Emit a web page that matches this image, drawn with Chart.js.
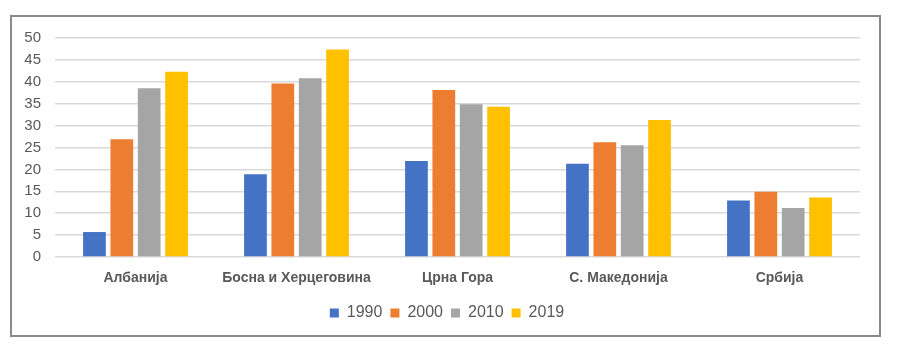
<!DOCTYPE html>
<html>
<head>
<meta charset="utf-8">
<script src="https://cdn.jsdelivr.net/npm/chart.js@4/dist/chart.umd.min.js"></script>
<style>
  html, body { margin: 0; padding: 0; background: #fff; }
  #wrap { position: relative; width: 900px; height: 349px; }
  #frame {
    position: absolute; left: 10px; top: 15px; width: 867px; height: 318px;
    border: 2px solid #8a8a8a; pointer-events: none;
  }
  canvas { position: absolute; left: 0; top: 0; }
</style>
</head>
<body>
<div id="wrap">
  <canvas id="chart" width="900" height="349"></canvas>
  <div id="frame"></div>
</div>
<script>
const countries = ["Албанија", "Босна и Херцеговина", "Црна Гора", "С. Македонија", "Србија"];
const years = ["1990", "2000", "2010", "2019"];
const v1990 = [5.7, 18.9, 21.9, 21.3, 12.9];
const v2000 = [26.9, 39.6, 38.1, 26.2, 14.9];
const v2010 = [38.5, 40.8, 34.9, 25.5, 11.2];
const v2019 = [42.3, 47.4, 34.3, 31.3, 13.6];
const colors = ["#4472C4", "#ED7D31", "#A5A5A5", "#FFC000"];

const textColor = "#595959";
const font = "Arial, 'Liberation Sans', sans-serif";

new Chart(document.getElementById("chart"), {
  type: "bar",
  data: {
    labels: countries,
    datasets: [v1990, v2000, v2010, v2019].map((d, i) => ({
      label: years[i],
      data: d,
      backgroundColor: colors[i],
      categoryPercentage: 0.68,
      barPercentage: 0.83,
    })),
  },
  options: {
    responsive: false,
    animation: false,
    layout: { padding: { top: 38, right: 6, bottom: 18, left: 0 } },
    plugins: {
      legend: {
        position: "bottom",
        labels: {
          color: textColor,
          font: { family: font, size: 16 },
          boxWidth: 9,
          boxHeight: 9,
          padding: 8,
        },
      },
      tooltip: { enabled: false },
    },
    scales: {
      x: {
        grid: { display: false, drawTicks: false },
        border: { display: false },
        ticks: {
          color: textColor,
          font: { family: font, size: 14, weight: "bold" },
          padding: 13,
        },
        afterFit: (s) => { s.height = 40; },
      },
      y: {
        min: 0,
        max: 50,
        ticks: {
          stepSize: 5,
          color: textColor,
          font: { family: font, size: 15 },
          padding: 14,
        },
        grid: { color: "#d9d9d9", lineWidth: 1.5, drawTicks: false },
        border: { display: false },
        afterFit: (s) => { s.width = 55; },
      },
      // empty right axis, only keeps room on the right side
      yRight: {
        position: "right",
        min: 0,
        max: 50,
        ticks: { display: false },
        grid: { display: false, drawTicks: false },
        border: { display: false },
        afterFit: (s) => { s.width = 34; },
      },
    },
  },
});
</script>
</body>
</html>
